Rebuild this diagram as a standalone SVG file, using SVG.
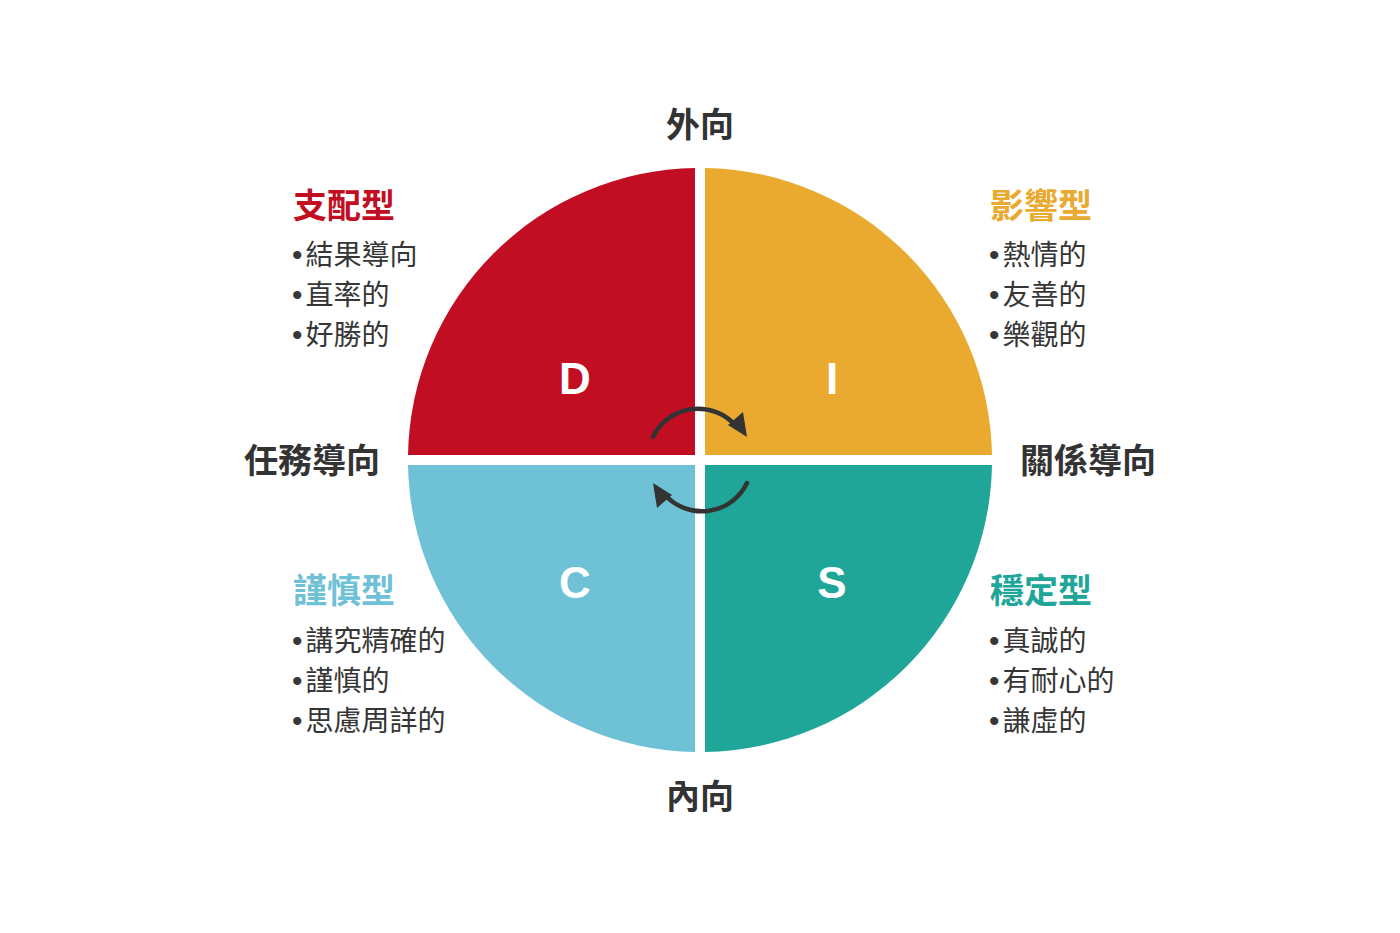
<svg xmlns="http://www.w3.org/2000/svg" width="1400" height="933" viewBox="0 0 1400 933">
<style>
.q{stroke:none}
.letter{font-family:"Liberation Sans",Arial,sans-serif;font-weight:bold;font-size:44px;fill:#ffffff;text-anchor:middle}
.axis{font-family:"Noto Sans CJK TC","Noto Sans CJK SC",sans-serif;font-weight:bold;font-size:34px;fill:#333333}
.title{font-family:"Noto Sans CJK TC","Noto Sans CJK SC",sans-serif;font-weight:bold;font-size:34px}
.item{font-family:"Noto Sans CJK TC","Noto Sans CJK SC",sans-serif;font-size:28px;fill:#363636}
.dot{font-family:"Liberation Sans",Arial,sans-serif;font-size:30px}
.arc{fill:none;stroke:#333333;stroke-width:4.5;stroke-linecap:round}
.head{fill:#333333}
</style>
<rect width="1400" height="933" fill="#ffffff"/>
<g id="node-D">
<path class="q" d="M695,455 V168 A292,292 0 0 0 408,455 Z" fill="#c20e23"/>
<text class="letter" x="575" y="394">D</text>
</g>
<g id="node-I">
<path class="q" d="M705,455 H992 A292,292 0 0 0 705,168 Z" fill="#e9aa2f"/>
<text class="letter" x="832" y="394">I</text>
</g>
<g id="node-S">
<path class="q" d="M705,465 V752 A292,292 0 0 0 992,465 Z" fill="#20a699"/>
<text class="letter" x="832" y="598">S</text>
</g>
<g id="node-C">
<path class="q" d="M695,465 H408 A292,292 0 0 0 695,752 Z" fill="#6fc1d6"/>
<text class="letter" x="575" y="598">C</text>
</g>
<g id="connectors">
<path class="arc" d="M653,437 A50,50 0 0 1 735,425"/>
<polygon class="head" points="747,437 728,425 743,412"/>
<path class="arc" d="M747,483 A50,50 0 0 1 665,495"/>
<polygon class="head" points="653,483 672,495 657,508"/>
</g>
<g id="axis-labels">
<text class="axis" x="700" y="137" text-anchor="middle">外向</text>
<text class="axis" x="700" y="809" text-anchor="middle">內向</text>
<text class="axis" x="380" y="473" text-anchor="end">任務導向</text>
<text class="axis" x="1020" y="473">關係導向</text>
</g>
<g id="label-D">
<text class="title" x="293" y="218" fill="#c20e23">支配型</text>
<text class="item" x="292" y="265"><tspan class="dot">•</tspan><tspan dx="3">結果導向</tspan></text>
<text class="item" x="292" y="305"><tspan class="dot">•</tspan><tspan dx="3">直率的</tspan></text>
<text class="item" x="292" y="345"><tspan class="dot">•</tspan><tspan dx="3">好勝的</tspan></text>
</g>
<g id="label-I">
<text class="title" x="990" y="218" fill="#e9aa2f">影響型</text>
<text class="item" x="989" y="265"><tspan class="dot">•</tspan><tspan dx="3">熱情的</tspan></text>
<text class="item" x="989" y="305"><tspan class="dot">•</tspan><tspan dx="3">友善的</tspan></text>
<text class="item" x="989" y="345"><tspan class="dot">•</tspan><tspan dx="3">樂觀的</tspan></text>
</g>
<g id="label-C">
<text class="title" x="293" y="603" fill="#6fc1d6">謹慎型</text>
<text class="item" x="292" y="651"><tspan class="dot">•</tspan><tspan dx="3">講究精確的</tspan></text>
<text class="item" x="292" y="691"><tspan class="dot">•</tspan><tspan dx="3">謹慎的</tspan></text>
<text class="item" x="292" y="731"><tspan class="dot">•</tspan><tspan dx="3">思慮周詳的</tspan></text>
</g>
<g id="label-S">
<text class="title" x="990" y="603" fill="#20a699">穩定型</text>
<text class="item" x="989" y="651"><tspan class="dot">•</tspan><tspan dx="3">真誠的</tspan></text>
<text class="item" x="989" y="691"><tspan class="dot">•</tspan><tspan dx="3">有耐心的</tspan></text>
<text class="item" x="989" y="731"><tspan class="dot">•</tspan><tspan dx="3">謙虛的</tspan></text>
</g>
</svg>
